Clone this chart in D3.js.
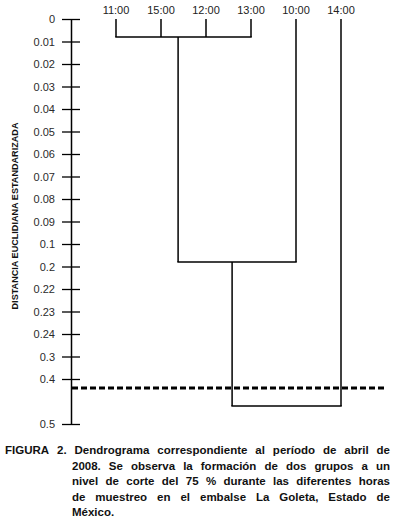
<!DOCTYPE html>
<html><head><meta charset="utf-8">
<script src="https://cdn.jsdelivr.net/npm/d3@7"></script>
<style>body{margin:0;background:#fff}svg{display:block}</style>
</head><body>
<script>
// ---- data ----
const leaves = ["11:00","15:00","12:00","13:00","10:00","14:00"];
const tickValues = [0,0.01,0.02,0.03,0.04,0.05,0.06,0.07,0.08,0.09,0.1,0.2,0.22,0.23,0.24,0.3,0.4,0.45,0.5];
const tickLabels = ["0","0.01","0.02","0.03","0.04","0.05","0.06","0.07","0.08","0.09","0.1","0.2","0.22","0.23","0.24","0.3","0.4","","0.5"];
const mergeIds = ["A","B","C"];
const mergeChildren = [["11:00","15:00","12:00","13:00"],["A","10:00"],["B","14:00"]];
const mergeHeights = [0.008,0.18,0.46];
const mergeStems = [1.38,2.58,null];   // stem position in leaf-index units
const cutLevel = 0.42;
const yTitle = "DISTANCIA EUCLIDIANA ESTANDARIZADA";
const captionLines = [
  "FIGURA 2. Dendrograma correspondiente al período de abril de",
  "2008. Se observa la formación de dos grupos a un",
  "nivel de corte del 75 % durante las diferentes horas",
  "de muestreo en el embalse La Goleta, Estado de",
  "México."
];

// ---- chart ----
const W = 393, H = 517;
const font = "Arial, 'Liberation Sans', sans-serif";
const svg = d3.select("body").append("svg").attr("width", W).attr("height", H);

const axisX = 71, yTop = 19, step = 22.5;
const y = d3.scaleLinear().domain(tickValues)
  .range(tickValues.map((d, i) => yTop + i * step));
const x = d3.scalePoint().domain(leaves).range([116, 341]);
const xi = d3.scaleLinear().domain([0, leaves.length - 1]).range(x.range());

// axis
const axis = d3.axisLeft(y)
  .tickValues(tickValues.filter((d, i) => tickLabels[i] !== ""))
  .tickFormat(d => tickLabels[tickValues.indexOf(d)])
  .tickSize(9).tickSizeOuter(0).tickPadding(7);
const gAxis = svg.append("g").attr("transform", `translate(${axisX},0)`).call(axis);
gAxis.select(".domain").attr("stroke", "#000").attr("stroke-width", 1.5);
gAxis.selectAll(".tick line").attr("x1", -9).attr("x2", 9).attr("stroke", "#000").attr("stroke-width", 1.3);
gAxis.selectAll(".tick text").attr("font-family", font).attr("font-size", 11).attr("fill", "#2a2a2a");

// y title
svg.append("text")
  .attr("transform", `translate(15,${216}) rotate(-90)`)
  .attr("text-anchor", "middle").attr("dominant-baseline", "central")
  .attr("font-family", font).attr("font-weight", "bold").attr("font-size", 9.1)
  .attr("fill", "#111").text(yTitle);

// nodes
const nodes = {};
leaves.forEach(l => nodes[l] = { x: x(l), h: 0 });
mergeIds.forEach((id, i) => {
  const ch = mergeChildren[i].map(c => nodes[c]);
  nodes[id] = { x: mergeStems[i] == null ? d3.mean(ch, c => c.x) : xi(mergeStems[i]), h: mergeHeights[i], ch };
});

const gD = svg.append("g").attr("stroke", "#000").attr("stroke-width", 1.5).attr("fill", "none");
mergeIds.forEach((id, i) => {
  const n = nodes[id];
  const xs = n.ch.map(c => c.x);
  gD.append("line").attr("x1", d3.min(xs) - 0.75).attr("x2", d3.max(xs) + 0.75)
    .attr("y1", y(n.h)).attr("y2", y(n.h));
  n.ch.forEach(c => {
    gD.append("line").attr("x1", c.x).attr("x2", c.x).attr("y1", y(c.h)).attr("y2", y(n.h));
  });
});

// leaf labels
svg.append("g").selectAll("text").data(leaves).join("text")
  .attr("x", d => x(d)).attr("y", 14).attr("text-anchor", "middle")
  .attr("font-family", font).attr("font-size", 11).attr("fill", "#222").text(d => d);

// cut line
svg.append("line").attr("x1", axisX + 1).attr("x2", 386)
  .attr("y1", y(cutLevel)).attr("y2", y(cutLevel))
  .attr("stroke", "#000").attr("stroke-width", 3).attr("stroke-dasharray", "6,3");

// caption (justified)
const capG = svg.append("g").attr("font-family", font).attr("font-weight", "bold")
  .attr("font-size", 11.5).attr("fill", "#111");
const capY0 = 454, capDy = 15.6, capRight = 390;
captionLines.forEach((line, li) => {
  const x0 = li === 0 ? 5 : 72;
  const words = line.split(" ");
  const ty = capY0 + li * capDy;
  const els = words.map(w => capG.append("text").attr("y", ty).text(w));
  const widths = els.map(e => e.node().getComputedTextLength());
  const total = d3.sum(widths);
  const justify = li < captionLines.length - 1;
  const gap = justify && words.length > 1 ? (capRight - x0 - total) / (words.length - 1) : 3.2;
  let cx = x0;
  els.forEach((e, k) => { e.attr("x", cx); cx += widths[k] + gap; });
});
</script>
</body></html>
